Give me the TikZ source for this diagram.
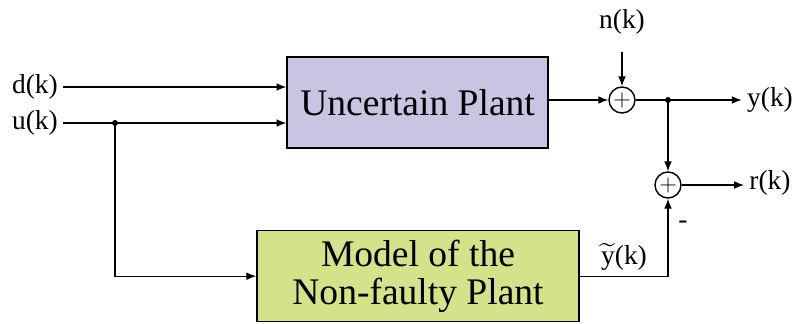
\documentclass[tikz,border=0pt]{standalone}
\usepackage{amsmath}
\usepackage{fontspec}
\setmainfont{Liberation Serif}
\usepackage{tikz}
\usetikzlibrary{arrows.meta}
\usetikzlibrary{positioning}
\definecolor{plantfill}{RGB}{200,196,226}
\definecolor{modelfill}{RGB}{213,226,138}
\tikzstyle{arrow}=[->,>={Latex[length=7pt,width=5.5pt]}]
\tikzstyle{block}=[rectangle, draw, align=center, font=\fontsize{26.7}{27.2}\selectfont]
\tikzstyle{sum}=[circle, draw, minimum size=0.65cm, inner sep=0pt, font=\fontsize{17}{17}\selectfont]
\tikzstyle{signal}=[font=\fontsize{19.5}{20}\selectfont]
\tikzset{every picture/.style={
    line width=1
  }
}

\begin{document}
\begin{tikzpicture}
        \useasboundingbox (0,0) rectangle (19.925,8.075);
        % blocks
        \node[block, fill=plantfill, minimum width=6.525cm, minimum height=2.275cm] at (10.44,5.51) (plant) {Uncertain Plant};
        \node[block, fill=modelfill, minimum width=8.05cm, minimum height=2.275cm] at (10.45,1.17) (model) {Model of the\\Non-faulty Plant};
        % summing junctions
        \node[sum] at (15.55,5.575) (sum1) {$+$};
        \node[sum] at (16.7,3.45) (sum2) {$+$};
        % signals
        \node[signal] at (0.875,5.9) (d) {d(k)};
        \node[signal] at (0.875,5.0) (u) {u(k)};
        \node[signal] at (15.55,7.525) (n) {n(k)};
        \node[signal] at (19.25,5.575) (y) {y(k)};
        \node[signal] at (19.25,3.5) (r) {r(k)};
        \node[signal] at (15.6,1.66) (yhat) {$\widetilde{\text{y}}$(k)};
        \node[signal] at (17.075,2.45) (minus) {-};
        \coordinate (split) at (2.875,5.0);
        \coordinate (tap) at (16.7,5.575);
        \coordinate (corner) at (16.7,1.17);
        % connections
        \draw[arrow] (d.east) -- (d.east -| plant.west);
        \draw[arrow] (u.east) -- (u.east -| plant.west);
        \draw[arrow] (split) |- (model.west);
        \draw[arrow] (plant.east |- sum1) -- (sum1);
        \draw[arrow] (n.south) ++(0,-0.3) -- (sum1.north);
        \draw (sum1) -- (tap);
        \draw[arrow] (tap) -- (tap -| y.west);
        \draw[arrow] (tap) -- (sum2.north);
        \draw[arrow] (sum2) -- (sum2 -| r.west);
        \draw[arrow] (model.east) -- (corner) -- (sum2.south);
        \fill (split) circle (0.075);
        \fill (tap) circle (0.075);
      \end{tikzpicture}
\end{document}
